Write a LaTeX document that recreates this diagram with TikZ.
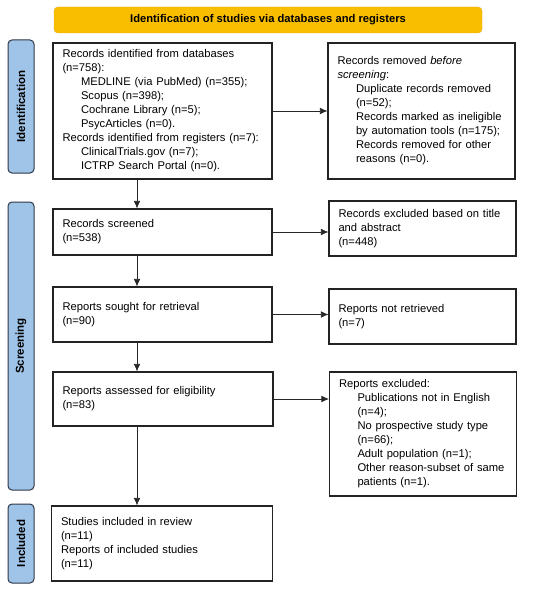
\documentclass[tikz,border=0pt]{standalone}
\usepackage{fontspec}
\setmainfont{Liberation Sans}
\usetikzlibrary{arrows.meta}

\definecolor{bannerfill}{RGB}{249,190,0}
\definecolor{bannerdraw}{RGB}{226,168,20}
\definecolor{sidefill}{RGB}{160,196,232}
\definecolor{sidedraw}{RGB}{45,55,70}
\definecolor{boxdraw}{RGB}{35,35,35}

\newcommand{\ind}{\hspace*{18.5pt}}

\begin{document}
\begin{tikzpicture}[x=1pt,y=-1pt,font=\fontsize{11.2}{14}\selectfont,
    recbox/.style={rectangle, draw=boxdraw, line width=1.1pt, align=left, inner xsep=9.5pt, inner ysep=0pt},
    sidebox/.style={rectangle, draw=sidedraw, fill=sidefill, line width=1pt, rounded corners=4pt, minimum height=26pt, inner sep=0pt, font=\fontsize{11.5}{14}\selectfont\bfseries},
    flow/.style={-{Latex[length=7.5pt,width=6.5pt]}, line width=0.7pt, black!85}]

\useasboundingbox (0,0) rectangle (550,591);

%%%%%%%%%%%%%%%%%%%% Header and phases %%%%%%%%%%%%%%%%%%%%%%%%%%

\node[rectangle, draw=bannerdraw, fill=bannerfill, rounded corners=4pt, minimum width=428pt, minimum height=26pt, font=\fontsize{11.2}{14}\selectfont\bfseries] (head) at (268,20) {Identification of studies via databases and registers};

%phase labels on the left
\foreach \index/\ymid/\len/\txt in {1/106.5/133pt/Identification, 2/346/288pt/Screening, 3/543.5/79pt/Included}
{
    \node[sidebox, rotate=90, minimum width=\len] (s\index) at (21,\ymid) {\txt};
}

%%%%%%%%%%%%%%%%%%%% Left column %%%%%%%%%%%%%%%%%%%%%%%%%%

\node[recbox, text width=200pt, minimum height=136pt] (l1) at (162.5,111) {Records identified from databases\\(n=758):\\\ind MEDLINE (via PubMed) (n=355);\\\ind Scopus (n=398);\\\ind Cochrane Library (n=5);\\\ind PsycArticles (n=0).\\Records identified from registers (n=7):\\\ind ClinicalTrials.gov (n=7);\\\ind ICTRP Search Portal (n=0).};

\node[recbox, text width=200pt, minimum height=46pt] (l2) at (162.5,232) {Records screened\\(n=538)};

\node[recbox, text width=200pt, minimum height=55pt] (l3) at (162.5,314.5) {Reports sought for retrieval\\(n=90)};

\node[recbox, text width=201pt, minimum height=54pt] (l4) at (163,399) {Reports assessed for eligibility\\(n=83)};

\node[recbox, text width=202pt, minimum height=75pt] (l5) at (162,543.5) {Studies included in review\\(n=11)\\Reports of included studies\\(n=11)};

%%%%%%%%%%%%%%%%%%%% Right column %%%%%%%%%%%%%%%%%%%%%%%%%%

\node[recbox, text width=168pt, minimum height=136pt] (r1) at (421.5,111) {Records removed \textit{before}\\\textit{screening}:\\\ind Duplicate records removed\\\ind (n=52);\\\ind Records marked as ineligible\\\ind by automation tools (n=175);\\\ind Records removed for other\\\ind reasons (n=0).};

\node[recbox, text width=168pt, minimum height=55pt] (r2) at (422.5,228.5) {Records excluded based on title\\and abstract\\(n=448)};

\node[recbox, text width=168pt, minimum height=55pt] (r3) at (422.5,316.5) {Reports not retrieved\\(n=7)};

\node[recbox, text width=168pt, minimum height=124pt] (r4) at (423,434) {Reports excluded:\\\ind Publications not in English\\\ind (n=4);\\\ind No prospective study type\\\ind (n=66);\\\ind Adult population (n=1);\\\ind Other reason-subset of same\\\ind patients (n=1).};

%%%%%%%%%%%%%%%%%%%% Arrows %%%%%%%%%%%%%%%%%%%%%%%%%%

\coordinate (col) at (137,0);

%down the left column
\foreach \index in {1,...,4}
{
    \draw [flow] (l\index.south -| col) -- (l\the\numexpr\index+1\relax.north -| col);
}

%out to the right column
\foreach \index in {1,...,4}
{
    \draw [flow] (l\index.east) -- (l\index.east -| r\index.west);
}

\end{tikzpicture}
\end{document}
